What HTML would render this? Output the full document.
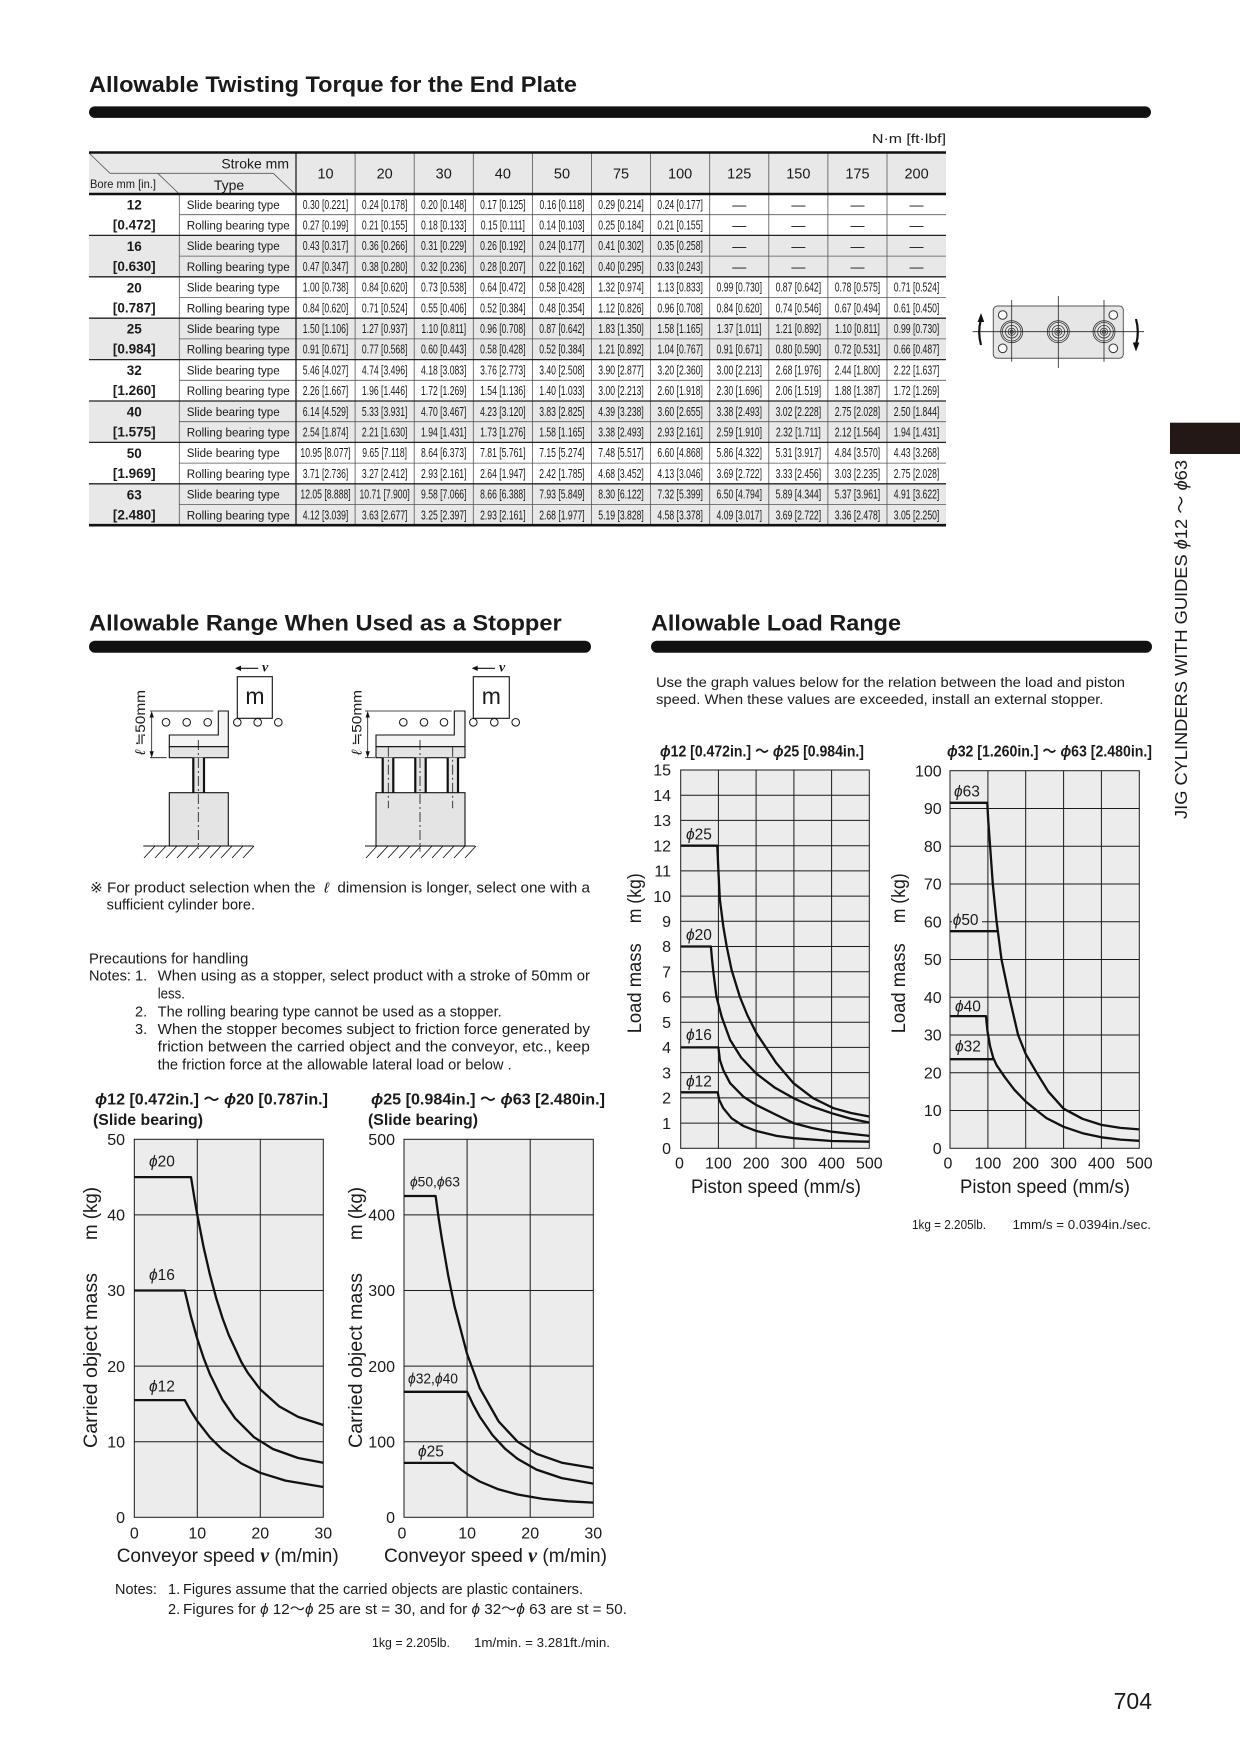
<!DOCTYPE html>
<html><head><meta charset="utf-8"><title>Allowable Twisting Torque for the End Plate</title>
<style>
html,body{margin:0;padding:0;background:#fff;}
svg{display:block;}
text{font-family:"Liberation Sans","DejaVu Sans","Noto Sans CJK JP",sans-serif;fill:#1a1a1a;}
.b{font-weight:bold;}
.dv text{font-size:12.5px;text-anchor:middle;}
.ty text{font-size:12.3px;}
.hd text{font-size:14.5px;text-anchor:middle;}
.dash text{font-size:14px;text-anchor:middle;}
.tk{font-size:16px;}
.tkr text{font-size:16px;text-anchor:end;}
.tkc text{font-size:16px;text-anchor:middle;}
.lbl{font-size:15.5px;}
.ph{font-style:italic;}
.note text{font-size:14.5px;}
.grid line{stroke:#1a1a1a;stroke-width:1;}
.cv{fill:none;stroke:#111;stroke-width:2.3;stroke-linejoin:round;}
.ax{font-size:19px;}
.sv{font-family:"Liberation Serif","DejaVu Serif",serif;font-style:italic;font-weight:bold;}
</style></head><body>
<svg width="1240" height="1754" viewBox="0 0 1240 1754" xmlns="http://www.w3.org/2000/svg">
<rect x="0" y="0" width="1240" height="1754" fill="#fff"/>

<!-- ===== TOP TITLE ===== -->
<text x="89" y="92" class="b" font-size="22" textLength="488" lengthAdjust="spacingAndGlyphs">Allowable Twisting Torque for the End Plate</text>
<rect x="89" y="106.4" width="1062" height="11.5" rx="5.75" fill="#111"/>

<text x="946" y="143" font-size="13" text-anchor="end" textLength="74" lengthAdjust="spacingAndGlyphs">N·m [ft·lbf]</text>

<!-- ===== TABLE ===== -->
<rect x="89" y="153" width="857" height="41" fill="#e8e8e8"/>
<rect x="89" y="235.4" width="857" height="41.4" fill="#e8e8e8"/>
<rect x="89" y="318.2" width="857" height="41.4" fill="#e8e8e8"/>
<rect x="89" y="401" width="857" height="41.4" fill="#e8e8e8"/>
<rect x="89" y="483.8" width="857" height="41.4" fill="#e8e8e8"/>

<g stroke="#555" stroke-width="0.8">
<line x1="355.1" y1="153" x2="355.1" y2="525"/>
<line x1="414.2" y1="153" x2="414.2" y2="525"/>
<line x1="473.3" y1="153" x2="473.3" y2="525"/>
<line x1="532.4" y1="153" x2="532.4" y2="525"/>
<line x1="591.5" y1="153" x2="591.5" y2="525"/>
<line x1="650.6" y1="153" x2="650.6" y2="525"/>
<line x1="709.7" y1="153" x2="709.7" y2="525"/>
<line x1="768.8" y1="153" x2="768.8" y2="525"/>
<line x1="827.9" y1="153" x2="827.9" y2="525"/>
<line x1="887" y1="153" x2="887" y2="525"/>
<line x1="179.3" y1="194" x2="179.3" y2="525"/>
<line x1="179.3" y1="214.7" x2="946" y2="214.7"/>
<line x1="179.3" y1="256.1" x2="946" y2="256.1"/>
<line x1="179.3" y1="297.5" x2="946" y2="297.5"/>
<line x1="179.3" y1="338.9" x2="946" y2="338.9"/>
<line x1="179.3" y1="380.3" x2="946" y2="380.3"/>
<line x1="179.3" y1="421.7" x2="946" y2="421.7"/>
<line x1="179.3" y1="463.1" x2="946" y2="463.1"/>
<line x1="179.3" y1="504.5" x2="946" y2="504.5"/>
<line x1="89" y1="153" x2="110" y2="173.3"/>
<line x1="110" y1="173.3" x2="273.3" y2="173.3"/>
<line x1="273.3" y1="173.3" x2="295" y2="194"/>
<line x1="157.7" y1="173.3" x2="179.3" y2="194"/>
</g>
<g stroke="#222" stroke-width="1.3">
<line x1="296" y1="153" x2="296" y2="525"/>
<line x1="89" y1="235.4" x2="946" y2="235.4"/>
<line x1="89" y1="276.8" x2="946" y2="276.8"/>
<line x1="89" y1="318.2" x2="946" y2="318.2"/>
<line x1="89" y1="359.6" x2="946" y2="359.6"/>
<line x1="89" y1="401" x2="946" y2="401"/>
<line x1="89" y1="442.4" x2="946" y2="442.4"/>
<line x1="89" y1="483.8" x2="946" y2="483.8"/>
</g>
<g stroke="#111" stroke-width="2.6">
<line x1="89" y1="152.5" x2="946" y2="152.5"/>
<line x1="89" y1="194" x2="946" y2="194"/>
<line x1="89" y1="525.2" x2="946" y2="525.2"/>
</g>

<text x="289" y="168.3" font-size="14" text-anchor="end">Stroke mm</text>
<text x="229" y="190" font-size="14" text-anchor="middle">Type</text>
<text x="90" y="188" font-size="12" textLength="66" lengthAdjust="spacingAndGlyphs">Bore mm [in.]</text>

<g class="hd">
<text x="325.55" y="178.5">10</text>
<text x="384.65" y="178.5">20</text>
<text x="443.75" y="178.5">30</text>
<text x="502.85" y="178.5">40</text>
<text x="561.95" y="178.5">50</text>
<text x="621.05" y="178.5">75</text>
<text x="680.15" y="178.5">100</text>
<text x="739.25" y="178.5">125</text>
<text x="798.35" y="178.5">150</text>
<text x="857.45" y="178.5">175</text>
<text x="916.55" y="178.5">200</text>
</g>

<g class="b" font-size="13.5" text-anchor="middle">
<text x="134.3" y="209.5">12</text><text x="134.3" y="229.5">[0.472]</text>
<text x="134.3" y="250.9">16</text><text x="134.3" y="270.9">[0.630]</text>
<text x="134.3" y="292.3">20</text><text x="134.3" y="312.3">[0.787]</text>
<text x="134.3" y="333.7">25</text><text x="134.3" y="353.7">[0.984]</text>
<text x="134.3" y="375.1">32</text><text x="134.3" y="395.1">[1.260]</text>
<text x="134.3" y="416.5">40</text><text x="134.3" y="436.5">[1.575]</text>
<text x="134.3" y="457.9">50</text><text x="134.3" y="477.9">[1.969]</text>
<text x="134.3" y="499.3">63</text><text x="134.3" y="519.3">[2.480]</text>
</g>

<g class="ty">
<text x="186.7" y="208.8" textLength="93" lengthAdjust="spacingAndGlyphs">Slide bearing type</text>
<text x="186.7" y="229.5" textLength="103" lengthAdjust="spacingAndGlyphs">Rolling bearing type</text>
<text x="186.7" y="250.2" textLength="93" lengthAdjust="spacingAndGlyphs">Slide bearing type</text>
<text x="186.7" y="270.9" textLength="103" lengthAdjust="spacingAndGlyphs">Rolling bearing type</text>
<text x="186.7" y="291.6" textLength="93" lengthAdjust="spacingAndGlyphs">Slide bearing type</text>
<text x="186.7" y="312.3" textLength="103" lengthAdjust="spacingAndGlyphs">Rolling bearing type</text>
<text x="186.7" y="333.0" textLength="93" lengthAdjust="spacingAndGlyphs">Slide bearing type</text>
<text x="186.7" y="353.7" textLength="103" lengthAdjust="spacingAndGlyphs">Rolling bearing type</text>
<text x="186.7" y="374.4" textLength="93" lengthAdjust="spacingAndGlyphs">Slide bearing type</text>
<text x="186.7" y="395.1" textLength="103" lengthAdjust="spacingAndGlyphs">Rolling bearing type</text>
<text x="186.7" y="415.8" textLength="93" lengthAdjust="spacingAndGlyphs">Slide bearing type</text>
<text x="186.7" y="436.5" textLength="103" lengthAdjust="spacingAndGlyphs">Rolling bearing type</text>
<text x="186.7" y="457.2" textLength="93" lengthAdjust="spacingAndGlyphs">Slide bearing type</text>
<text x="186.7" y="477.9" textLength="103" lengthAdjust="spacingAndGlyphs">Rolling bearing type</text>
<text x="186.7" y="498.6" textLength="93" lengthAdjust="spacingAndGlyphs">Slide bearing type</text>
<text x="186.7" y="519.3" textLength="103" lengthAdjust="spacingAndGlyphs">Rolling bearing type</text>
</g>

<g class="dv" transform="translate(325.55,0) scale(0.69,1)">
<text y="208.8">0.30 [0.221]</text><text y="229.5">0.27 [0.199]</text><text y="250.2">0.43 [0.317]</text><text y="270.9">0.47 [0.347]</text>
<text y="291.6">1.00 [0.738]</text><text y="312.3">0.84 [0.620]</text><text y="333.0">1.50 [1.106]</text><text y="353.7">0.91 [0.671]</text>
<text y="374.4">5.46 [4.027]</text><text y="395.1">2.26 [1.667]</text><text y="415.8">6.14 [4.529]</text><text y="436.5">2.54 [1.874]</text>
<text y="457.2">10.95 [8.077]</text><text y="477.9">3.71 [2.736]</text><text y="498.6">12.05 [8.888]</text><text y="519.3">4.12 [3.039]</text>
</g>
<g class="dv" transform="translate(384.65,0) scale(0.69,1)">
<text y="208.8">0.24 [0.178]</text><text y="229.5">0.21 [0.155]</text><text y="250.2">0.36 [0.266]</text><text y="270.9">0.38 [0.280]</text>
<text y="291.6">0.84 [0.620]</text><text y="312.3">0.71 [0.524]</text><text y="333.0">1.27 [0.937]</text><text y="353.7">0.77 [0.568]</text>
<text y="374.4">4.74 [3.496]</text><text y="395.1">1.96 [1.446]</text><text y="415.8">5.33 [3.931]</text><text y="436.5">2.21 [1.630]</text>
<text y="457.2">9.65 [7.118]</text><text y="477.9">3.27 [2.412]</text><text y="498.6">10.71 [7.900]</text><text y="519.3">3.63 [2.677]</text>
</g>
<g class="dv" transform="translate(443.75,0) scale(0.69,1)">
<text y="208.8">0.20 [0.148]</text><text y="229.5">0.18 [0.133]</text><text y="250.2">0.31 [0.229]</text><text y="270.9">0.32 [0.236]</text>
<text y="291.6">0.73 [0.538]</text><text y="312.3">0.55 [0.406]</text><text y="333.0">1.10 [0.811]</text><text y="353.7">0.60 [0.443]</text>
<text y="374.4">4.18 [3.083]</text><text y="395.1">1.72 [1.269]</text><text y="415.8">4.70 [3.467]</text><text y="436.5">1.94 [1.431]</text>
<text y="457.2">8.64 [6.373]</text><text y="477.9">2.93 [2.161]</text><text y="498.6">9.58 [7.066]</text><text y="519.3">3.25 [2.397]</text>
</g>
<g class="dv" transform="translate(502.85,0) scale(0.69,1)">
<text y="208.8">0.17 [0.125]</text><text y="229.5">0.15 [0.111]</text><text y="250.2">0.26 [0.192]</text><text y="270.9">0.28 [0.207]</text>
<text y="291.6">0.64 [0.472]</text><text y="312.3">0.52 [0.384]</text><text y="333.0">0.96 [0.708]</text><text y="353.7">0.58 [0.428]</text>
<text y="374.4">3.76 [2.773]</text><text y="395.1">1.54 [1.136]</text><text y="415.8">4.23 [3.120]</text><text y="436.5">1.73 [1.276]</text>
<text y="457.2">7.81 [5.761]</text><text y="477.9">2.64 [1.947]</text><text y="498.6">8.66 [6.388]</text><text y="519.3">2.93 [2.161]</text>
</g>
<g class="dv" transform="translate(561.95,0) scale(0.69,1)">
<text y="208.8">0.16 [0.118]</text><text y="229.5">0.14 [0.103]</text><text y="250.2">0.24 [0.177]</text><text y="270.9">0.22 [0.162]</text>
<text y="291.6">0.58 [0.428]</text><text y="312.3">0.48 [0.354]</text><text y="333.0">0.87 [0.642]</text><text y="353.7">0.52 [0.384]</text>
<text y="374.4">3.40 [2.508]</text><text y="395.1">1.40 [1.033]</text><text y="415.8">3.83 [2.825]</text><text y="436.5">1.58 [1.165]</text>
<text y="457.2">7.15 [5.274]</text><text y="477.9">2.42 [1.785]</text><text y="498.6">7.93 [5.849]</text><text y="519.3">2.68 [1.977]</text>
</g>
<g class="dv" transform="translate(621.05,0) scale(0.69,1)">
<text y="208.8">0.29 [0.214]</text><text y="229.5">0.25 [0.184]</text><text y="250.2">0.41 [0.302]</text><text y="270.9">0.40 [0.295]</text>
<text y="291.6">1.32 [0.974]</text><text y="312.3">1.12 [0.826]</text><text y="333.0">1.83 [1.350]</text><text y="353.7">1.21 [0.892]</text>
<text y="374.4">3.90 [2.877]</text><text y="395.1">3.00 [2.213]</text><text y="415.8">4.39 [3.238]</text><text y="436.5">3.38 [2.493]</text>
<text y="457.2">7.48 [5.517]</text><text y="477.9">4.68 [3.452]</text><text y="498.6">8.30 [6.122]</text><text y="519.3">5.19 [3.828]</text>
</g>
<g class="dv" transform="translate(680.15,0) scale(0.69,1)">
<text y="208.8">0.24 [0.177]</text><text y="229.5">0.21 [0.155]</text><text y="250.2">0.35 [0.258]</text><text y="270.9">0.33 [0.243]</text>
<text y="291.6">1.13 [0.833]</text><text y="312.3">0.96 [0.708]</text><text y="333.0">1.58 [1.165]</text><text y="353.7">1.04 [0.767]</text>
<text y="374.4">3.20 [2.360]</text><text y="395.1">2.60 [1.918]</text><text y="415.8">3.60 [2.655]</text><text y="436.5">2.93 [2.161]</text>
<text y="457.2">6.60 [4.868]</text><text y="477.9">4.13 [3.046]</text><text y="498.6">7.32 [5.399]</text><text y="519.3">4.58 [3.378]</text>
</g>
<g class="dv" transform="translate(739.25,0) scale(0.69,1)">
<text y="291.6">0.99 [0.730]</text><text y="312.3">0.84 [0.620]</text><text y="333.0">1.37 [1.011]</text><text y="353.7">0.91 [0.671]</text>
<text y="374.4">3.00 [2.213]</text><text y="395.1">2.30 [1.696]</text><text y="415.8">3.38 [2.493]</text><text y="436.5">2.59 [1.910]</text>
<text y="457.2">5.86 [4.322]</text><text y="477.9">3.69 [2.722]</text><text y="498.6">6.50 [4.794]</text><text y="519.3">4.09 [3.017]</text>
</g>
<g class="dv" transform="translate(798.35,0) scale(0.69,1)">
<text y="291.6">0.87 [0.642]</text><text y="312.3">0.74 [0.546]</text><text y="333.0">1.21 [0.892]</text><text y="353.7">0.80 [0.590]</text>
<text y="374.4">2.68 [1.976]</text><text y="395.1">2.06 [1.519]</text><text y="415.8">3.02 [2.228]</text><text y="436.5">2.32 [1.711]</text>
<text y="457.2">5.31 [3.917]</text><text y="477.9">3.33 [2.456]</text><text y="498.6">5.89 [4.344]</text><text y="519.3">3.69 [2.722]</text>
</g>
<g class="dv" transform="translate(857.45,0) scale(0.69,1)">
<text y="291.6">0.78 [0.575]</text><text y="312.3">0.67 [0.494]</text><text y="333.0">1.10 [0.811]</text><text y="353.7">0.72 [0.531]</text>
<text y="374.4">2.44 [1.800]</text><text y="395.1">1.88 [1.387]</text><text y="415.8">2.75 [2.028]</text><text y="436.5">2.12 [1.564]</text>
<text y="457.2">4.84 [3.570]</text><text y="477.9">3.03 [2.235]</text><text y="498.6">5.37 [3.961]</text><text y="519.3">3.36 [2.478]</text>
</g>
<g class="dv" transform="translate(916.55,0) scale(0.69,1)">
<text y="291.6">0.71 [0.524]</text><text y="312.3">0.61 [0.450]</text><text y="333.0">0.99 [0.730]</text><text y="353.7">0.66 [0.487]</text>
<text y="374.4">2.22 [1.637]</text><text y="395.1">1.72 [1.269]</text><text y="415.8">2.50 [1.844]</text><text y="436.5">1.94 [1.431]</text>
<text y="457.2">4.43 [3.268]</text><text y="477.9">2.75 [2.028]</text><text y="498.6">4.91 [3.622]</text><text y="519.3">3.05 [2.250]</text>
</g>
<g class="dash">
<text x="739.25" y="209.5">—</text><text x="798.35" y="209.5">—</text><text x="857.45" y="209.5">—</text><text x="916.55" y="209.5">—</text>
<text x="739.25" y="230.2">—</text><text x="798.35" y="230.2">—</text><text x="857.45" y="230.2">—</text><text x="916.55" y="230.2">—</text>
<text x="739.25" y="250.9">—</text><text x="798.35" y="250.9">—</text><text x="857.45" y="250.9">—</text><text x="916.55" y="250.9">—</text>
<text x="739.25" y="271.6">—</text><text x="798.35" y="271.6">—</text><text x="857.45" y="271.6">—</text><text x="916.55" y="271.6">—</text>
</g>

<!-- ===== END PLATE DIAGRAM ===== -->
<rect x="993.3" y="306" width="130" height="52.3" rx="4" fill="#e6e6e6" stroke="#555" stroke-width="1"/>
<g fill="none" stroke="#333" stroke-width="0.8">
<circle cx="1011.7" cy="331.7" r="11"/><circle cx="1011.7" cy="331.7" r="9.3"/><circle cx="1011.7" cy="331.7" r="6.3"/><circle cx="1011.7" cy="331.7" r="3.6"/><circle cx="1011.7" cy="331.7" r="1.6"/>
<circle cx="1058.3" cy="331.7" r="11"/><circle cx="1058.3" cy="331.7" r="9.3"/><circle cx="1058.3" cy="331.7" r="6.3"/><circle cx="1058.3" cy="331.7" r="3.6"/><circle cx="1058.3" cy="331.7" r="1.6"/>
<circle cx="1104" cy="331.7" r="11"/><circle cx="1104" cy="331.7" r="9.3"/><circle cx="1104" cy="331.7" r="6.3"/><circle cx="1104" cy="331.7" r="3.6"/><circle cx="1104" cy="331.7" r="1.6"/>
</g>
<g fill="#fff" stroke="#333" stroke-width="1">
<circle cx="1002.7" cy="315" r="4.3"/><circle cx="1002.7" cy="348.3" r="4.3"/>
<circle cx="1113.3" cy="315" r="4.3"/><circle cx="1113.3" cy="348.3" r="4.3"/>
</g>
<g stroke="#222" stroke-width="0.8">
<line x1="1011.7" y1="300" x2="1011.7" y2="361.7"/>
<line x1="1058.3" y1="296" x2="1058.3" y2="368"/>
<line x1="1104" y1="300" x2="1104" y2="361.7"/>
<line x1="972.7" y1="331.7" x2="1144" y2="331.7"/>
</g>
<path d="M981,345 Q977.5,332 980.8,320" fill="none" stroke="#111" stroke-width="2.2"/>
<polygon points="981,313 977.6,322 984.2,322" fill="#111"/>
<path d="M1136,319 Q1139.5,332 1136.2,344" fill="none" stroke="#111" stroke-width="2.2"/>
<polygon points="1136,351.5 1132.8,342.5 1139.4,342.5" fill="#111"/>

<!-- ===== SIDE TAB ===== -->
<rect x="1170" y="422.7" width="70" height="31.3" fill="#231815"/>
<text transform="translate(1187,819) rotate(-90)" font-size="17.5" textLength="359" lengthAdjust="spacingAndGlyphs">JIG CYLINDERS WITH GUIDES <tspan class="ph">ϕ</tspan>12 ～ <tspan class="ph">ϕ</tspan>63</text>

<!-- ===== SECTION TITLES ===== -->
<text x="89" y="630.7" class="b" font-size="22.5" textLength="472.7" lengthAdjust="spacingAndGlyphs">Allowable Range When Used as a Stopper</text>
<rect x="89" y="640.7" width="502" height="12" rx="6" fill="#111"/>
<text x="651" y="630.7" class="b" font-size="22.5" textLength="250" lengthAdjust="spacingAndGlyphs">Allowable Load Range</text>
<rect x="651" y="640.7" width="501" height="12" rx="6" fill="#111"/>

<!-- ===== STOPPER DIAGRAM 1 ===== -->
<g stroke="#111" stroke-width="1.1">
<line x1="238" y1="668.3" x2="258.3" y2="668.3"/>
<rect x="237.3" y="676.7" width="35" height="41.6" fill="#fff"/>
<polygon points="169.3,746.7 169.3,735 218.3,735 218.3,711 228.3,711 228.3,746.7" fill="#f4f4f4"/>
<rect x="169.3" y="746.7" width="59" height="11" fill="#e4e4e4"/>
<rect x="192.3" y="757.7" width="12.7" height="35" fill="#e4e4e4" stroke="none"/>
<line x1="193.3" y1="757.7" x2="193.3" y2="792.7" stroke-width="2.2"/>
<line x1="204" y1="757.7" x2="204" y2="792.7" stroke-width="2.2"/>
<rect x="169.3" y="792.7" width="59" height="53.3" fill="#e4e4e4"/>
<line x1="143.3" y1="846" x2="253.3" y2="846"/>
<path d="M144 858 L155 846 M155 858 L166 846 M166 858 L177 846 M177 858 L188 846 M188 858 L199 846 M199 858 L210 846 M210 858 L221 846 M221 858 L232 846 M232 858 L243 846 M243 858 L254 846" stroke-width="0.9"/>
<line x1="198.3" y1="740" x2="198.3" y2="849.3" stroke-width="0.8" stroke-dasharray="10 3 2 3"/>
<line x1="151.7" y1="714" x2="151.7" y2="754.7" stroke-width="0.8"/>
<line x1="150" y1="711" x2="213.3" y2="711" stroke-width="0.8"/>
<line x1="150" y1="757.7" x2="166.7" y2="757.7" stroke-width="0.8"/>
</g>
<polygon points="235,668.3 241,665.6 241,671" fill="#111"/>
<polygon points="151.7,711 149.6,717.5 153.8,717.5" fill="#111"/>
<polygon points="151.7,757.7 149.6,751.2 153.8,751.2" fill="#111"/>
<g fill="#fff" stroke="#111" stroke-width="1">
<circle cx="166" cy="722.3" r="3.8"/><circle cx="186.7" cy="722.3" r="3.8"/><circle cx="207.7" cy="722.3" r="3.8"/>
<circle cx="237.3" cy="722.3" r="3.8"/><circle cx="257.7" cy="722.3" r="3.8"/><circle cx="278.3" cy="722.3" r="3.8"/>
</g>
<text x="262" y="671.5" class="sv" font-size="14">v</text>
<text x="255" y="704" font-size="23" text-anchor="middle">m</text>
<text transform="translate(145,755) rotate(-90)" font-size="14" textLength="65" lengthAdjust="spacingAndGlyphs"><tspan font-style="italic">ℓ</tspan> ≒50mm</text>

<!-- ===== STOPPER DIAGRAM 2 ===== -->
<g stroke="#111" stroke-width="1.1">
<line x1="474.5" y1="668.3" x2="495" y2="668.3"/>
<rect x="473.3" y="676.7" width="36" height="41.6" fill="#fff"/>
<polygon points="376,746.7 376,735 454.3,735 454.3,711 465,711 465,746.7" fill="#f4f4f4"/>
<rect x="376" y="746.7" width="89" height="11" fill="#e4e4e4"/>
<rect x="381.7" y="757.7" width="12.6" height="35" fill="#e4e4e4" stroke="none"/>
<rect x="414.3" y="757.7" width="12.4" height="35" fill="#e4e4e4" stroke="none"/>
<rect x="446.7" y="757.7" width="12.3" height="35" fill="#e4e4e4" stroke="none"/>
<path d="M382.7 757.7 V792.7 M393.3 757.7 V792.7 M415.3 757.7 V792.7 M425.7 757.7 V792.7 M447.7 757.7 V792.7 M458 757.7 V792.7" stroke-width="2.2"/>
<rect x="376" y="792.7" width="89" height="53.3" fill="#e4e4e4"/>
<line x1="365" y1="846" x2="475" y2="846"/>
<path d="M366 858 L377 846 M377 858 L388 846 M388 858 L399 846 M399 858 L410 846 M410 858 L421 846 M421 858 L432 846 M432 858 L443 846 M443 858 L454 846 M454 858 L465 846 M465 858 L476 846" stroke-width="0.9"/>
<line x1="420" y1="740" x2="420" y2="851.7" stroke-width="0.8" stroke-dasharray="10 3 2 3"/>
<line x1="388.3" y1="746.7" x2="388.3" y2="808.3" stroke-width="0.8" stroke-dasharray="10 3 2 3"/>
<line x1="452.7" y1="746.7" x2="452.7" y2="808.3" stroke-width="0.8" stroke-dasharray="10 3 2 3"/>
<line x1="367.7" y1="714" x2="367.7" y2="754.7" stroke-width="0.8"/>
<line x1="365" y1="711" x2="451.7" y2="711" stroke-width="0.8"/>
<line x1="365" y1="757.7" x2="375" y2="757.7" stroke-width="0.8"/>
</g>
<polygon points="471.7,668.3 477.7,665.6 477.7,671" fill="#111"/>
<polygon points="367.7,711 365.6,717.5 369.8,717.5" fill="#111"/>
<polygon points="367.7,757.7 365.6,751.2 369.8,751.2" fill="#111"/>
<g fill="#fff" stroke="#111" stroke-width="1">
<circle cx="403.3" cy="722.3" r="3.8"/><circle cx="424" cy="722.3" r="3.8"/><circle cx="444" cy="722.3" r="3.8"/>
<circle cx="473.3" cy="722.3" r="3.8"/><circle cx="494.3" cy="722.3" r="3.8"/><circle cx="515.7" cy="722.3" r="3.8"/>
</g>
<text x="499" y="671.5" class="sv" font-size="14">v</text>
<text x="491.3" y="704" font-size="23" text-anchor="middle">m</text>
<text transform="translate(361.7,755) rotate(-90)" font-size="14" textLength="65" lengthAdjust="spacingAndGlyphs"><tspan font-style="italic">ℓ</tspan> ≒50mm</text>

<!-- ===== NOTES (left) ===== -->
<g class="note">
<text x="90" y="892.7" textLength="500" lengthAdjust="spacingAndGlyphs" xml:space="preserve">※ For product selection when the  <tspan font-style="italic">ℓ</tspan>  dimension is longer, select one with a</text>
<text x="106.7" y="909.3" textLength="148.3" lengthAdjust="spacingAndGlyphs">sufficient cylinder bore.</text>
<text x="89" y="963.3" textLength="159.3" lengthAdjust="spacingAndGlyphs">Precautions for handling</text>
<text x="89" y="980.7">Notes:</text>
<text x="135" y="980.7">1.</text>
<text x="157.7" y="980.7" textLength="432.3" lengthAdjust="spacingAndGlyphs">When using as a stopper, select product with a stroke of 50mm or</text>
<text x="157.7" y="998.3" textLength="27.3" lengthAdjust="spacingAndGlyphs">less.</text>
<text x="135" y="1016.7">2.</text>
<text x="157.7" y="1016.7" textLength="344" lengthAdjust="spacingAndGlyphs">The rolling bearing type cannot be used as a stopper.</text>
<text x="135" y="1034">3.</text>
<text x="157.7" y="1034" textLength="432.3" lengthAdjust="spacingAndGlyphs">When the stopper becomes subject to friction force generated by</text>
<text x="157.7" y="1051.7" textLength="432.3" lengthAdjust="spacingAndGlyphs">friction between the carried object and the conveyor, etc., keep</text>
<text x="157.7" y="1069.3" textLength="354" lengthAdjust="spacingAndGlyphs">the friction force at the allowable lateral load or below .</text>
</g>

<text x="95" y="1104.5" class="b" font-size="15.5" textLength="233" lengthAdjust="spacingAndGlyphs"><tspan class="ph">ϕ</tspan>12 [0.472in.] ～ <tspan class="ph">ϕ</tspan>20 [0.787in.]</text>
<text x="93" y="1125" class="b" font-size="15.5" textLength="110" lengthAdjust="spacingAndGlyphs">(Slide bearing)</text>
<text x="371" y="1104.5" class="b" font-size="15.5" textLength="234" lengthAdjust="spacingAndGlyphs"><tspan class="ph">ϕ</tspan>25 [0.984in.] ～ <tspan class="ph">ϕ</tspan>63 [2.480in.]</text>
<text x="368" y="1125" class="b" font-size="15.5" textLength="110" lengthAdjust="spacingAndGlyphs">(Slide bearing)</text>

<!-- ===== CHART 1 ===== -->
<rect x="134.3" y="1139.3" width="189" height="378" fill="#ececec" stroke="#1a1a1a" stroke-width="1"/>
<g class="grid">
<line x1="134.3" y1="1441.7" x2="323.3" y2="1441.7"/>
<line x1="134.3" y1="1366.1" x2="323.3" y2="1366.1"/>
<line x1="134.3" y1="1290.5" x2="323.3" y2="1290.5"/>
<line x1="134.3" y1="1214.9" x2="323.3" y2="1214.9"/>
<line x1="197.3" y1="1139.3" x2="197.3" y2="1517.3"/>
<line x1="260.3" y1="1139.3" x2="260.3" y2="1517.3"/>
</g>
<polyline class="cv" points="134.3,1177.1 191,1177.1 194.2,1196.8 197.3,1214.9 203.6,1247.1 209.9,1274.6 216.2,1298.1 222.5,1318.1 228.8,1335.1 241.4,1362.1 247.7,1372.7 260.3,1389.4 279.2,1406.4 298.1,1416.9 323.3,1425"/>
<polyline class="cv" points="134.3,1290.5 184.7,1290.5 191,1316.6 197.3,1338.9 203.6,1357.9 209.9,1374.1 222.5,1399.7 235.1,1418.3 254,1437.2 272.9,1449 298.1,1458 323.3,1462.8"/>
<polyline class="cv" points="134.3,1400.1 184.7,1400.1 191,1411.3 197.3,1421.1 209.9,1437.3 222.5,1449.8 241.4,1463.5 260.3,1472.8 285.5,1480.6 323.3,1487"/>
<text x="149" y="1166.7" class="lbl"><tspan class="ph">ϕ</tspan>20</text>
<text x="149" y="1280" class="lbl"><tspan class="ph">ϕ</tspan>16</text>
<text x="149" y="1391.7" class="lbl"><tspan class="ph">ϕ</tspan>12</text>
<g class="tkr">
<text x="125" y="1523">0</text><text x="125" y="1447.4">10</text><text x="125" y="1371.8">20</text>
<text x="125" y="1296.2">30</text><text x="125" y="1220.6">40</text><text x="125" y="1145">50</text>
</g>
<g class="tkc">
<text x="134.3" y="1538.5">0</text><text x="197.3" y="1538.5">10</text><text x="260.3" y="1538.5">20</text><text x="323.3" y="1538.5">30</text>
</g>
<text transform="translate(97,1448) rotate(-90)" class="ax" textLength="175" lengthAdjust="spacingAndGlyphs">Carried object mass</text>
<text transform="translate(97,1240) rotate(-90)" class="ax" textLength="53" lengthAdjust="spacingAndGlyphs">m (kg)</text>
<text x="116.7" y="1562" class="ax" textLength="222" lengthAdjust="spacingAndGlyphs">Conveyor speed <tspan class="sv" font-size="20">v</tspan> (m/min)</text>

<!-- ===== CHART 2 ===== -->
<rect x="404" y="1139.3" width="189.3" height="378" fill="#ececec" stroke="#1a1a1a" stroke-width="1"/>
<g class="grid">
<line x1="404" y1="1441.7" x2="593.3" y2="1441.7"/>
<line x1="404" y1="1366.1" x2="593.3" y2="1366.1"/>
<line x1="404" y1="1290.5" x2="593.3" y2="1290.5"/>
<line x1="404" y1="1214.9" x2="593.3" y2="1214.9"/>
<line x1="467.1" y1="1139.3" x2="467.1" y2="1517.3"/>
<line x1="530.2" y1="1139.3" x2="530.2" y2="1517.3"/>
</g>
<polyline class="cv" points="404,1196 435.6,1196 438.7,1218.5 441.9,1239.1 448.2,1275.5 454.5,1306.2 467.1,1354 479.7,1388 498.7,1421.5 517.6,1441.7 536.5,1453.8 561.8,1462.7 593.3,1468"/>
<polyline class="cv" points="404,1391.8 467.1,1391.8 473.4,1405.1 479.7,1416.6 492.4,1435 505,1448.7 517.6,1458.9 536.5,1469.6 561.8,1478.1 593.3,1483.6"/>
<polyline class="cv" points="404,1462.9 453.2,1462.9 460.8,1469.4 467.1,1474 479.7,1481.5 498.7,1489.4 517.6,1494.5 542.8,1498.9 568.1,1501.3 593.3,1502.6"/>
<text x="410" y="1186.7" font-size="13.5" textLength="50" lengthAdjust="spacingAndGlyphs"><tspan class="ph">ϕ</tspan>50,<tspan class="ph">ϕ</tspan>63</text>
<text x="408" y="1383.3" font-size="14.5" textLength="50" lengthAdjust="spacingAndGlyphs"><tspan class="ph">ϕ</tspan>32,<tspan class="ph">ϕ</tspan>40</text>
<text x="418" y="1456.7" class="lbl"><tspan class="ph">ϕ</tspan>25</text>
<g class="tkr">
<text x="395" y="1523">0</text><text x="395" y="1447.4">100</text><text x="395" y="1371.8">200</text>
<text x="395" y="1296.2">300</text><text x="395" y="1220.6">400</text><text x="395" y="1145">500</text>
</g>
<g class="tkc">
<text x="402" y="1538.5">0</text><text x="467.1" y="1538.5">10</text><text x="530.2" y="1538.5">20</text><text x="593.3" y="1538.5">30</text>
</g>
<text transform="translate(362,1448) rotate(-90)" class="ax" textLength="175" lengthAdjust="spacingAndGlyphs">Carried object mass</text>
<text transform="translate(362,1240) rotate(-90)" class="ax" textLength="53" lengthAdjust="spacingAndGlyphs">m (kg)</text>
<text x="384" y="1562" class="ax" textLength="223" lengthAdjust="spacingAndGlyphs">Conveyor speed <tspan class="sv" font-size="20">v</tspan> (m/min)</text>

<!-- ===== BOTTOM NOTES ===== -->
<g class="note">
<text x="115" y="1594">Notes:</text>
<text x="168" y="1594">1.</text>
<text x="183" y="1594" textLength="400" lengthAdjust="spacingAndGlyphs">Figures assume that the carried objects are plastic containers.</text>
<text x="168" y="1614">2.</text>
<text x="183" y="1614" textLength="444" lengthAdjust="spacingAndGlyphs">Figures for <tspan class="ph">ϕ</tspan> 12～<tspan class="ph">ϕ</tspan> 25 are st = 30, and for <tspan class="ph">ϕ</tspan> 32～<tspan class="ph">ϕ</tspan> 63 are st = 50.</text>
</g>
<text x="372" y="1647" font-size="13" textLength="78" lengthAdjust="spacingAndGlyphs">1kg = 2.205lb.</text>
<text x="474" y="1647" font-size="13" textLength="136" lengthAdjust="spacingAndGlyphs">1m/min. = 3.281ft./min.</text>

<!-- ===== RIGHT SECTION TEXT ===== -->
<text x="656" y="687" font-size="14" textLength="469" lengthAdjust="spacingAndGlyphs">Use the graph values below for the relation between the load and piston</text>
<text x="656" y="704" font-size="14" textLength="447.5" lengthAdjust="spacingAndGlyphs">speed. When these values are exceeded, install an external stopper.</text>

<text x="660" y="756.5" class="b" font-size="15.5" textLength="204" lengthAdjust="spacingAndGlyphs"><tspan class="ph">ϕ</tspan>12 [0.472in.] ～ <tspan class="ph">ϕ</tspan>25 [0.984in.]</text>
<text x="947" y="756.5" class="b" font-size="15.5" textLength="205" lengthAdjust="spacingAndGlyphs"><tspan class="ph">ϕ</tspan>32 [1.260in.] ～ <tspan class="ph">ϕ</tspan>63 [2.480in.]</text>

<!-- ===== CHART 3 ===== -->
<rect x="680.7" y="770" width="188.6" height="378.3" fill="#ececec" stroke="#1a1a1a" stroke-width="1"/>
<g class="grid">
<line x1="680.7" y1="1123.1" x2="869.3" y2="1123.1"/>
<line x1="680.7" y1="1097.9" x2="869.3" y2="1097.9"/>
<line x1="680.7" y1="1072.6" x2="869.3" y2="1072.6"/>
<line x1="680.7" y1="1047.4" x2="869.3" y2="1047.4"/>
<line x1="680.7" y1="1022.2" x2="869.3" y2="1022.2"/>
<line x1="680.7" y1="997" x2="869.3" y2="997"/>
<line x1="680.7" y1="971.8" x2="869.3" y2="971.8"/>
<line x1="680.7" y1="946.5" x2="869.3" y2="946.5"/>
<line x1="680.7" y1="921.3" x2="869.3" y2="921.3"/>
<line x1="680.7" y1="896.1" x2="869.3" y2="896.1"/>
<line x1="680.7" y1="870.9" x2="869.3" y2="870.9"/>
<line x1="680.7" y1="845.7" x2="869.3" y2="845.7"/>
<line x1="680.7" y1="820.4" x2="869.3" y2="820.4"/>
<line x1="680.7" y1="795.2" x2="869.3" y2="795.2"/>
<line x1="718.4" y1="770" x2="718.4" y2="1148.3"/>
<line x1="756.1" y1="770" x2="756.1" y2="1148.3"/>
<line x1="793.9" y1="770" x2="793.9" y2="1148.3"/>
<line x1="831.6" y1="770" x2="831.6" y2="1148.3"/>
</g>
<polyline class="cv" points="680.7,845.7 717.3,845.7 718.4,870.9 719.9,899.9 723.3,926.4 726.7,946.5 731.6,970 739.9,997 747.5,1015.5 756.5,1033.3 776.5,1063.3 793.5,1083.2 813.5,1098.4 833.5,1108.2 851,1113 869.3,1116.5"/>
<polyline class="cv" points="680.7,946.5 710.9,946.5 712,959.1 713.5,973.3 716.5,997 721.8,1017.2 730.1,1039.9 741.1,1057.5 756.1,1073.4 775,1087.8 793.9,1098.4 812,1106.5 831.6,1113.2 850,1118.5 869.3,1122.6"/>
<polyline class="cv" points="680.7,1047.4 718.4,1047.4 719.9,1060 723.3,1070.1 730.1,1083.2 743.3,1096.6 756.1,1104.9 776.5,1115 793.9,1123.3 812,1128 831.6,1131.7 869.3,1135.9"/>
<polyline class="cv" points="680.7,1092.3 717.7,1092.3 719.2,1099.9 723.3,1108.2 731.6,1118.3 743.3,1125.9 756.1,1130.9 776.5,1135.9 793.9,1138.2 831.6,1141 869.3,1141.7"/>
<text x="686" y="839.3" class="lbl"><tspan class="ph">ϕ</tspan>25</text>
<text x="686" y="940" class="lbl"><tspan class="ph">ϕ</tspan>20</text>
<text x="686" y="1040" class="lbl"><tspan class="ph">ϕ</tspan>16</text>
<text x="686" y="1086.7" class="lbl"><tspan class="ph">ϕ</tspan>12</text>
<g class="tkr">
<text x="671" y="1154">0</text><text x="671" y="1128.8">1</text><text x="671" y="1103.6">2</text><text x="671" y="1078.3">3</text>
<text x="671" y="1053.1">4</text><text x="671" y="1027.9">5</text><text x="671" y="1002.7">6</text><text x="671" y="977.5">7</text>
<text x="671" y="952.2">8</text><text x="671" y="927">9</text><text x="671" y="901.8">10</text><text x="671" y="876.6">11</text>
<text x="671" y="851.4">12</text><text x="671" y="826.1">13</text><text x="671" y="800.9">14</text><text x="671" y="775.7">15</text>
</g>
<g class="tkc">
<text x="679.5" y="1168.5">0</text><text x="718.4" y="1168.5">100</text><text x="756.1" y="1168.5">200</text>
<text x="793.9" y="1168.5">300</text><text x="831.6" y="1168.5">400</text><text x="869.3" y="1168.5">500</text>
</g>
<text transform="translate(641,1033.3) rotate(-90)" class="ax" textLength="90" lengthAdjust="spacingAndGlyphs">Load mass</text>
<text transform="translate(641,923.3) rotate(-90)" class="ax" textLength="50" lengthAdjust="spacingAndGlyphs">m (kg)</text>
<text x="691" y="1193" class="ax" textLength="170" lengthAdjust="spacingAndGlyphs">Piston speed (mm/s)</text>

<!-- ===== CHART 4 ===== -->
<rect x="950" y="770.7" width="189.3" height="377.6" fill="#ececec" stroke="#1a1a1a" stroke-width="1"/>
<g class="grid">
<line x1="950" y1="1110.5" x2="1139.3" y2="1110.5"/>
<line x1="950" y1="1072.8" x2="1139.3" y2="1072.8"/>
<line x1="950" y1="1035" x2="1139.3" y2="1035"/>
<line x1="950" y1="997.3" x2="1139.3" y2="997.3"/>
<line x1="950" y1="959.5" x2="1139.3" y2="959.5"/>
<line x1="950" y1="921.7" x2="1139.3" y2="921.7"/>
<line x1="950" y1="884" x2="1139.3" y2="884"/>
<line x1="950" y1="846.2" x2="1139.3" y2="846.2"/>
<line x1="950" y1="808.5" x2="1139.3" y2="808.5"/>
<line x1="987.9" y1="770.7" x2="987.9" y2="1148.3"/>
<line x1="1025.7" y1="770.7" x2="1025.7" y2="1148.3"/>
<line x1="1063.6" y1="770.7" x2="1063.6" y2="1148.3"/>
<line x1="1101.4" y1="770.7" x2="1101.4" y2="1148.3"/>
</g>
<rect x="952" y="912" width="30" height="15" fill="#ececec"/>
<polyline class="cv" points="950,802.8 987.3,802.8 988.2,819.8 990.1,846.2 992.8,884 996.6,921.7 1001.5,959.5 1009.4,997.3 1018.1,1035 1025.7,1053.9 1036.7,1072.8 1048.4,1091.7 1063.6,1108.7 1082.5,1118.8 1101.4,1124.9 1120.4,1127.9 1139.3,1129.4"/>
<polyline class="cv" points="950,931.2 998,931.2"/>
<polyline class="cv" points="950,1016.1 986,1016.1 986.7,1023.7 987.5,1031.2 990.1,1046.3 993.2,1057.7 996.6,1065.2 1004.9,1077.3 1014.4,1089.8 1025.7,1101.5 1036.7,1110.5 1046.5,1118.1 1063.6,1126.8 1082.5,1133.2 1101.4,1137.3 1120.4,1139.6 1139.3,1140.8"/>
<polyline class="cv" points="950,1059.2 994.3,1059.2"/>
<text x="954" y="796.7" class="lbl"><tspan class="ph">ϕ</tspan>63</text>
<text x="952.7" y="925" class="lbl"><tspan class="ph">ϕ</tspan>50</text>
<text x="955" y="1011.7" class="lbl"><tspan class="ph">ϕ</tspan>40</text>
<text x="955" y="1051.7" class="lbl"><tspan class="ph">ϕ</tspan>32</text>
<g class="tkr">
<text x="941.7" y="1154">0</text><text x="941.7" y="1116.2">10</text><text x="941.7" y="1078.5">20</text>
<text x="941.7" y="1040.7">30</text><text x="941.7" y="1003">40</text><text x="941.7" y="965.2">50</text>
<text x="941.7" y="927.4">60</text><text x="941.7" y="889.7">70</text><text x="941.7" y="851.9">80</text>
<text x="941.7" y="814.2">90</text><text x="941.7" y="776.4">100</text>
</g>
<g class="tkc">
<text x="948" y="1168.5">0</text><text x="987.9" y="1168.5">100</text><text x="1025.7" y="1168.5">200</text>
<text x="1063.6" y="1168.5">300</text><text x="1101.4" y="1168.5">400</text><text x="1139.3" y="1168.5">500</text>
</g>
<text transform="translate(905,1033.3) rotate(-90)" class="ax" textLength="90" lengthAdjust="spacingAndGlyphs">Load mass</text>
<text transform="translate(905,923.3) rotate(-90)" class="ax" textLength="50" lengthAdjust="spacingAndGlyphs">m (kg)</text>
<text x="960" y="1193" class="ax" textLength="170" lengthAdjust="spacingAndGlyphs">Piston speed (mm/s)</text>

<text x="912" y="1229" font-size="12.5" textLength="74" lengthAdjust="spacingAndGlyphs">1kg = 2.205lb.</text>
<text x="1012.5" y="1229" font-size="13" textLength="138.5" lengthAdjust="spacingAndGlyphs">1mm/s = 0.0394in./sec.</text>

<!-- ===== PAGE NUMBER ===== -->
<text x="1152" y="1709" font-size="23" text-anchor="end">704</text>
</svg>
</body></html>
